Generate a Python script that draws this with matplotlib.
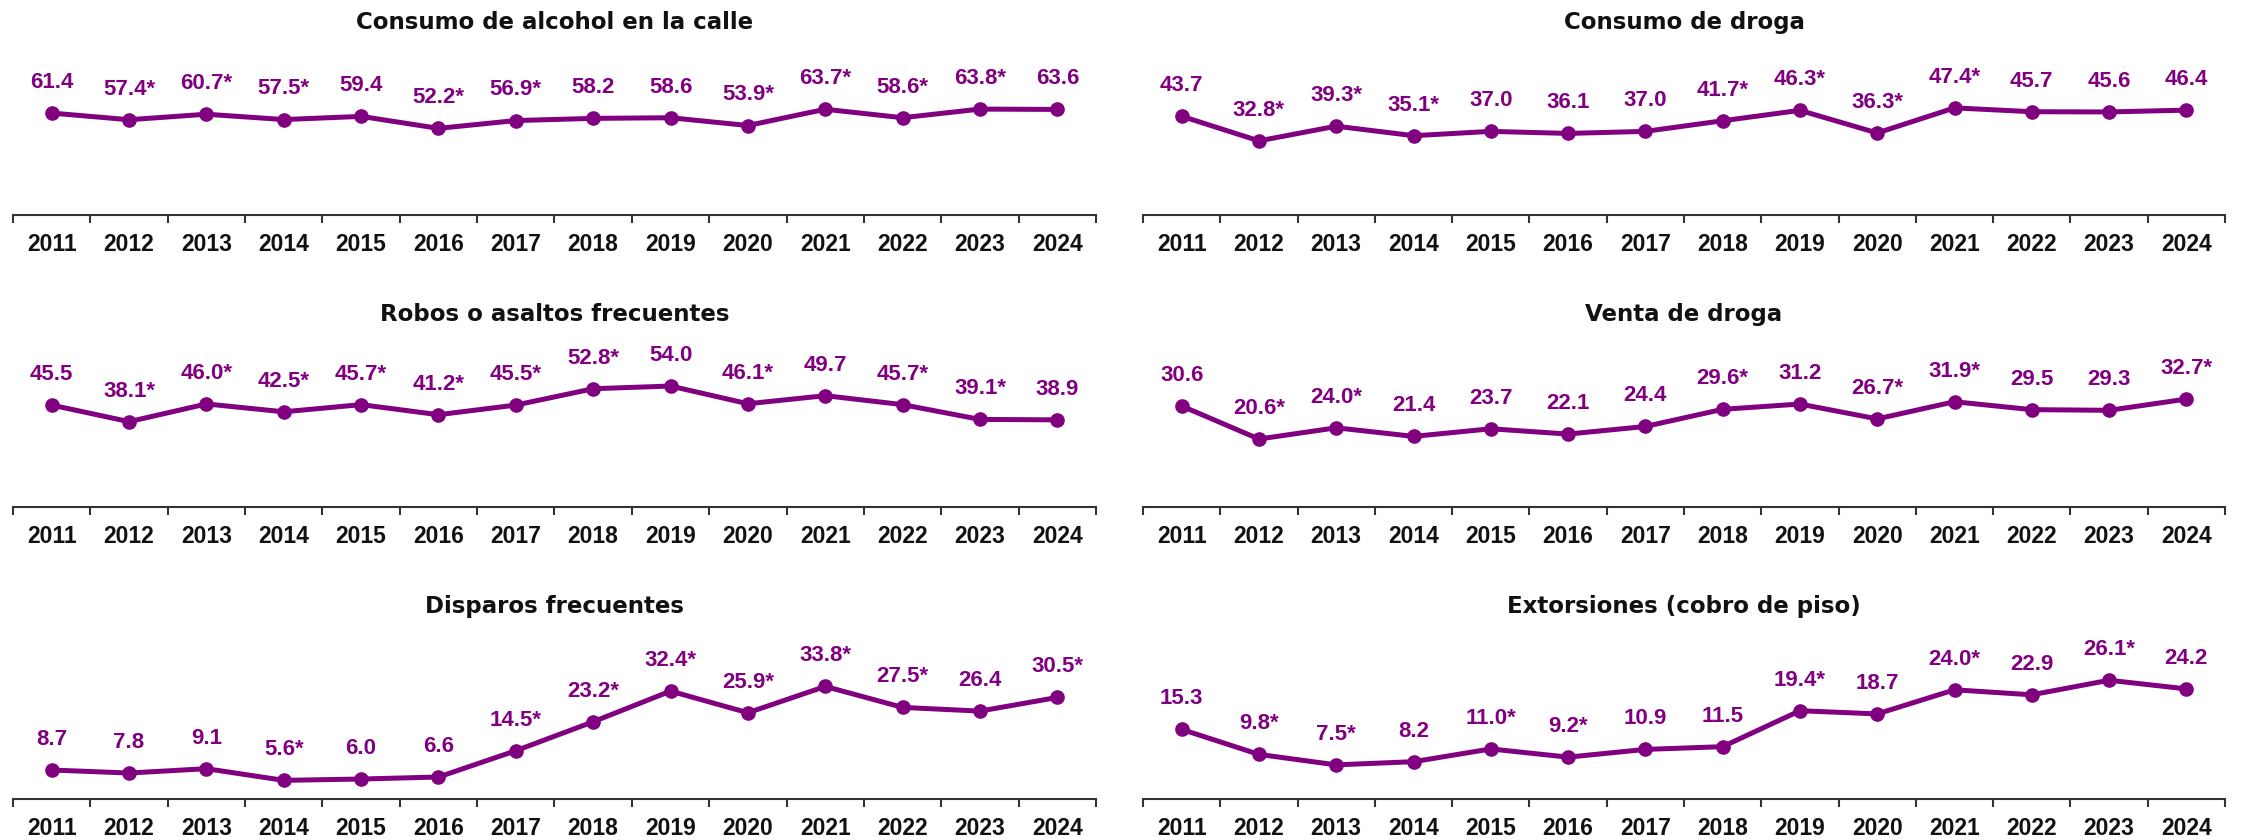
import matplotlib
matplotlib.use("Agg")
import matplotlib.pyplot as plt
from matplotlib.ticker import FixedLocator, NullFormatter

# Datos: porcentaje por año y marca de diferencia significativa (*)
years = [2011, 2012, 2013, 2014, 2015, 2016, 2017,
         2018, 2019, 2020, 2021, 2022, 2023, 2024]

alcohol = [61.4, 57.4, 60.7, 57.5, 59.4, 52.2, 56.9, 58.2, 58.6, 53.9, 63.7, 58.6, 63.8, 63.6]
alcohol_sig = [0, 1, 1, 1, 0, 1, 1, 0, 0, 1, 1, 1, 1, 0]

consumo_droga = [43.7, 32.8, 39.3, 35.1, 37.0, 36.1, 37.0, 41.7, 46.3, 36.3, 47.4, 45.7, 45.6, 46.4]
consumo_droga_sig = [0, 1, 1, 1, 0, 0, 0, 1, 1, 1, 1, 0, 0, 0]

robos = [45.5, 38.1, 46.0, 42.5, 45.7, 41.2, 45.5, 52.8, 54.0, 46.1, 49.7, 45.7, 39.1, 38.9]
robos_sig = [0, 1, 1, 1, 1, 1, 1, 1, 0, 1, 0, 1, 1, 0]

venta_droga = [30.6, 20.6, 24.0, 21.4, 23.7, 22.1, 24.4, 29.6, 31.2, 26.7, 31.9, 29.5, 29.3, 32.7]
venta_droga_sig = [0, 1, 1, 0, 0, 0, 0, 1, 0, 1, 1, 0, 0, 1]

disparos = [8.7, 7.8, 9.1, 5.6, 6.0, 6.6, 14.5, 23.2, 32.4, 25.9, 33.8, 27.5, 26.4, 30.5]
disparos_sig = [0, 0, 0, 1, 0, 0, 1, 1, 1, 1, 1, 1, 0, 1]

extorsiones = [15.3, 9.8, 7.5, 8.2, 11.0, 9.2, 10.9, 11.5, 19.4, 18.7, 24.0, 22.9, 26.1, 24.2]
extorsiones_sig = [0, 1, 1, 0, 1, 1, 0, 0, 1, 0, 1, 0, 1, 0]

panels = [
    ("Consumo de alcohol en la calle", alcohol, alcohol_sig),
    ("Consumo de droga", consumo_droga, consumo_droga_sig),
    ("Robos o asaltos frecuentes", robos, robos_sig),
    ("Venta de droga", venta_droga, venta_droga_sig),
    ("Disparos frecuentes", disparos, disparos_sig),
    ("Extorsiones (cobro de piso)", extorsiones, extorsiones_sig),
]

# escala vertical de cada panel (px por punto porcentual)
px_per_unit = [1.66, 2.26, 2.24, 3.3, 3.33, 4.55]

PURPLE = "#800080"
FONT = ["Liberation Sans", "DejaVu Sans"]
W, H = 2244, 840
DPI = 100

plt.rcParams["font.family"] = FONT
fig = plt.figure(figsize=(W / DPI, H / DPI), dpi=DPI)

col_x = [(13, 1096), (1143, 2225)]
row_axis_y = [215, 507, 799]
row_title_base = [29, 321, 613]
ax_h = 160

for i, (title, values, sig) in enumerate(panels):
    row, col = divmod(i, 2)
    x0, x1 = col_x[col]
    y_line = row_axis_y[row]
    ax = fig.add_axes([x0 / W, 1 - y_line / H, (x1 - x0) / W, ax_h / H])
    xs = list(range(len(years)))
    ax.plot(xs, values, color=PURPLE, lw=3.6, marker="o", ms=9.5,
            clip_on=False, solid_joinstyle="round")
    for x, v, s in zip(xs, values, sig):
        label = f"{v:.1f}" + ("*" if s else "")
        ax.annotate(label, (x, v), xytext=(0, 22), textcoords="offset points",
                    ha="center", va="center", color=PURPLE,
                    fontsize=16, fontweight="bold")

    ax.set_xlim(-0.5, len(years) - 0.5)
    ax.set_ylim(0, ax_h / px_per_unit[i])
    for side in ("top", "left", "right"):
        ax.spines[side].set_visible(False)
    ax.spines["bottom"].set_color("#333333")
    ax.spines["bottom"].set_linewidth(1.5)
    ax.set_yticks([])

    # marcas en los límites de categoría, etiquetas en el centro
    ax.xaxis.set_major_locator(FixedLocator([k - 0.5 for k in range(len(years) + 1)]))
    ax.xaxis.set_major_formatter(NullFormatter())
    ax.set_xticks(xs, [str(y) for y in years], minor=True)
    ax.tick_params(axis="x", which="major", length=5.5, width=1.5, color="#333333")
    ax.tick_params(axis="x", which="minor", length=0, pad=13,
                   labelsize=16.5, labelcolor="#111111")
    for lbl in ax.get_xticklabels(minor=True):
        lbl.set_fontweight("bold")
    ax.patch.set_alpha(0)

    fig.text((x0 + x1) / 2 / W, 1 - row_title_base[row] / H, title,
             ha="center", va="baseline", fontsize=16.5, fontweight="bold",
             family="DejaVu Sans", color="#111111")

fig.savefig("out.png", dpi=DPI)
